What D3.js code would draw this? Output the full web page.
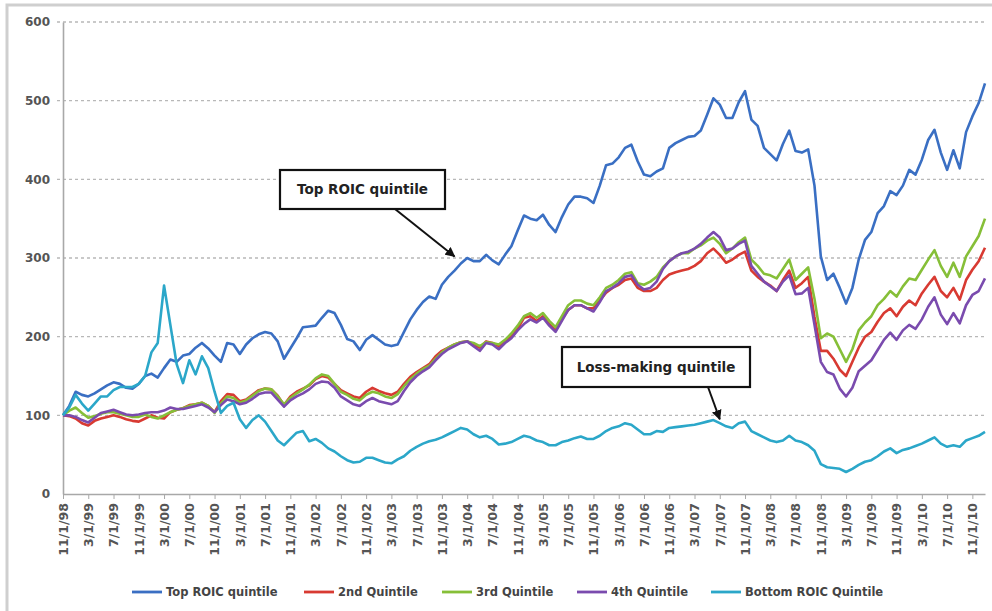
<!DOCTYPE html>
<html>
<head>
<meta charset="utf-8">
<script src="https://cdn.jsdelivr.net/npm/d3@7"></script>
<style>
  body { margin: 0; background: #fff; }
  svg { display: block; font-family: "DejaVu Sans", Verdana, sans-serif; }
</style>
</head>
<body>
<svg id="chart" width="992" height="611"></svg>
<script>
// monthly index values (start = 100), 11/1998 .. 1/2011
const topRoic = [
  100,112,130,126,124,128,133,138,142,140,
  135,134,140,150,153,148,160,171,168,176,
  178,186,192,185,176,168,192,190,178,190,
  198,203,206,204,194,172,185,198,212,213,
  214,224,233,230,215,197,194,183,196,202,
  196,190,188,190,206,222,234,244,251,248,
  266,276,284,293,300,296,296,304,297,292,
  304,315,335,354,350,348,355,342,333,352,
  368,378,378,376,370,392,418,420,428,440,
  444,423,406,404,410,414,440,446,450,454,
  455,462,482,503,495,478,478,498,512,476,
  468,440,432,424,445,462,436,434,438,392,
  302,272,280,262,242,262,298,323,333,357,
  366,385,380,392,412,406,425,450,463,434,
  412,437,414,460,480,497,522
];
const second = [
  100,99,96,90,87,93,96,98,100,98,
  95,93,92,96,100,97,96,104,107,109,
  113,114,116,112,104,118,127,126,118,120,
  126,132,134,133,125,113,124,130,134,138,
  146,150,148,140,132,128,124,122,130,135,
  131,128,126,130,140,149,155,160,165,175,
  182,186,190,193,194,190,186,194,192,188,
  195,200,210,224,226,220,226,216,208,222,
  234,240,240,236,236,246,256,262,266,272,
  274,262,258,258,262,272,279,282,284,286,
  290,296,306,312,304,294,298,304,308,284,
  276,270,265,258,272,284,262,268,276,225,
  182,182,172,158,150,168,186,200,206,219,
  230,236,226,238,246,240,255,266,276,258,
  250,262,247,272,285,296,313
];
const third = [
  100,106,110,103,97,99,102,104,104,102,
  100,98,98,101,98,96,100,104,107,109,
  112,114,116,112,103,115,124,122,116,119,
  125,131,134,133,124,114,122,128,133,139,
  147,152,150,140,130,126,121,119,126,130,
  128,124,122,127,137,146,153,159,163,172,
  180,186,190,193,194,192,188,193,192,190,
  196,204,214,226,230,224,230,220,212,226,
  240,246,246,242,240,250,262,266,272,280,
  282,268,266,270,276,288,296,302,306,306,
  312,316,322,326,318,306,312,320,326,298,
  290,280,278,274,286,298,272,280,288,248,
  198,204,200,184,168,184,208,218,226,240,
  248,258,251,264,274,272,285,298,310,290,
  276,294,276,302,315,328,350
];
const fourth = [
  100,100,98,94,91,97,103,105,107,104,
  101,100,101,103,104,104,106,110,108,108,
  110,112,114,110,104,113,120,118,114,116,
  121,127,129,129,120,111,119,124,128,133,
  140,143,142,135,124,119,114,112,118,122,
  118,116,114,118,131,142,150,156,161,170,
  178,184,188,192,194,188,182,192,190,184,
  192,198,208,216,222,218,224,214,206,220,
  234,240,240,236,232,244,258,262,268,276,
  278,266,260,262,270,286,296,302,306,308,
  312,318,326,333,326,310,312,318,322,290,
  280,270,264,258,270,278,254,255,262,215,
  168,155,152,134,124,135,156,163,170,183,
  196,205,196,208,215,210,222,238,250,228,
  216,230,217,240,253,258,274
];
const bottom = [
  100,110,126,115,106,115,124,124,132,136,
  136,136,140,150,180,192,265,215,165,141,
  170,152,175,160,130,103,112,116,95,84,
  94,100,92,80,68,62,70,78,80,67,
  70,65,58,54,48,43,40,41,46,46,
  43,40,39,44,48,55,60,64,67,69,
  72,76,80,84,82,76,72,74,70,63,
  64,66,70,74,72,68,66,62,62,66,
  68,71,73,70,70,74,80,84,86,90,
  88,82,76,76,80,79,84,85,86,87,
  88,90,92,94,90,86,84,90,92,80,
  76,72,68,66,68,74,68,66,62,55,
  38,34,33,32,28,32,37,41,43,48,
  54,58,52,56,58,61,64,68,72,64,
  60,62,60,68,71,74,79
];

const seriesNames = ["Top ROIC quintile", "2nd Quintile", "3rd Quintile", "4th Quintile", "Bottom ROIC Quintile"];
const seriesColors = ["#3a6fc3", "#d83a32", "#86bf38", "#7a4bae", "#2ba7c9"];
const seriesValues = [topRoic, second, third, fourth, bottom];
const yTicks = [0, 100, 200, 300, 400, 500, 600];

// category axis: one entry per month
const months = d3.utcMonth.range(new Date(Date.UTC(1998, 10, 1)), new Date(Date.UTC(2011, 1, 1)));
const fmt = d3.utcFormat("%-m/%-d/%y");
const cats = months.map(fmt);
const tickLabels = cats.filter((d, i) => i % 4 === 0);

// annotations: text, box, and the month/value the arrow points at
const notes = [
  {text: "Top ROIC quintile", box: [280, 170, 165, 39], from: [395, 209], month: 62, value: 302},
  {text: "Loss-making quintile", box: [562, 347, 188, 40], from: [708, 387], month: 104, value: 95}
];

const svg = d3.select("#chart");

// outer frame
svg.append("rect")
   .attr("x", 7).attr("y", 5)
   .attr("width", 1000).attr("height", 640)
   .attr("fill", "none")
   .attr("stroke", "#cfcfcf")
   .attr("stroke-width", 3);

var x = d3.scalePoint().domain(cats).range([63, 985]);
var y = d3.scaleLinear().domain([0, 600]).range([494, 22]);

// gridlines
svg.append("g").selectAll("line")
   .data(yTicks.filter(d => d > 0))
   .enter().append("line")
   .attr("x1", 57).attr("x2", 985)
   .attr("y1", d => y(d)).attr("y2", d => y(d))
   .attr("stroke", "#b8b8b8")
   .attr("stroke-width", 1.3)
   .attr("stroke-dasharray", "3,3");

// y axis
var yAxis = svg.append("g")
   .attr("transform", "translate(63,0)")
   .call(d3.axisLeft(y).tickValues(yTicks).tickSize(0).tickPadding(13));
yAxis.select(".domain").attr("stroke", "#a8a8a8").attr("stroke-width", 1.6);
yAxis.selectAll("text")
   .attr("font-size", 12).attr("font-weight", "bold")
   .attr("fill", "#555").attr("font-family", "DejaVu Sans");

// x axis
var xAxis = svg.append("g")
   .attr("transform", "translate(0,494)")
   .call(d3.axisBottom(x).tickValues(tickLabels).tickSize(5).tickSizeOuter(0));
xAxis.select(".domain").attr("stroke", "#a8a8a8").attr("stroke-width", 1.6);
xAxis.selectAll(".tick line").attr("stroke", "#a8a8a8");
xAxis.selectAll("text")
   .attr("transform", "rotate(-90)")
   .attr("text-anchor", "end")
   .attr("x", -9).attr("y", 0).attr("dy", "0.35em")
   .attr("font-size", 12.5).attr("font-weight", "bold")
   .attr("fill", "#555").attr("font-family", "DejaVu Sans");

// series lines
var line = d3.line()
   .x((d, i) => x(cats[i]))
   .y(d => y(d));

svg.append("g").selectAll("path")
   .data(seriesValues)
   .enter().append("path")
   .attr("d", line)
   .attr("fill", "none")
   .attr("stroke", (d, i) => seriesColors[i])
   .attr("stroke-width", 2.6)
   .attr("stroke-linejoin", "round");

// arrow head
svg.append("defs").append("marker")
   .attr("id", "arrow")
   .attr("viewBox", "0 0 10 10")
   .attr("refX", 9).attr("refY", 5)
   .attr("markerWidth", 5).attr("markerHeight", 5)
   .attr("orient", "auto")
   .append("path")
   .attr("d", "M0,0L10,5L0,10Z")
   .attr("fill", "#111");

// annotations
var note = svg.append("g").selectAll("g")
   .data(notes)
   .enter().append("g");

note.append("line")
   .attr("x1", d => d.from[0]).attr("y1", d => d.from[1])
   .attr("x2", d => x(cats[d.month])).attr("y2", d => y(d.value))
   .attr("stroke", "#111")
   .attr("stroke-width", 2)
   .attr("marker-end", "url(#arrow)");

note.append("rect")
   .attr("x", d => d.box[0]).attr("y", d => d.box[1])
   .attr("width", d => d.box[2]).attr("height", d => d.box[3])
   .attr("fill", "#fff")
   .attr("stroke", "#111")
   .attr("stroke-width", 2.2);

note.append("text")
   .attr("x", d => d.box[0] + d.box[2] / 2)
   .attr("y", d => d.box[1] + d.box[3] / 2)
   .attr("dy", "0.36em")
   .attr("text-anchor", "middle")
   .attr("font-size", 13.5)
   .attr("font-weight", "bold")
   .attr("fill", "#222")
   .text(d => d.text);

// legend
const legendX = [132, 304, 442, 577, 711];
var legend = svg.append("g").selectAll("g")
   .data(seriesNames)
   .enter().append("g")
   .attr("transform", (d, i) => "translate(" + legendX[i] + ",592)");

legend.append("line")
   .attr("x1", 0).attr("x2", 30)
   .attr("stroke", (d, i) => seriesColors[i])
   .attr("stroke-width", 2.8);

legend.append("text")
   .attr("x", 34).attr("dy", "0.35em")
   .attr("font-size", 11.5)
   .attr("font-weight", "bold")
   .attr("fill", "#444")
   .text(d => d);
</script>
</body>
</html>
